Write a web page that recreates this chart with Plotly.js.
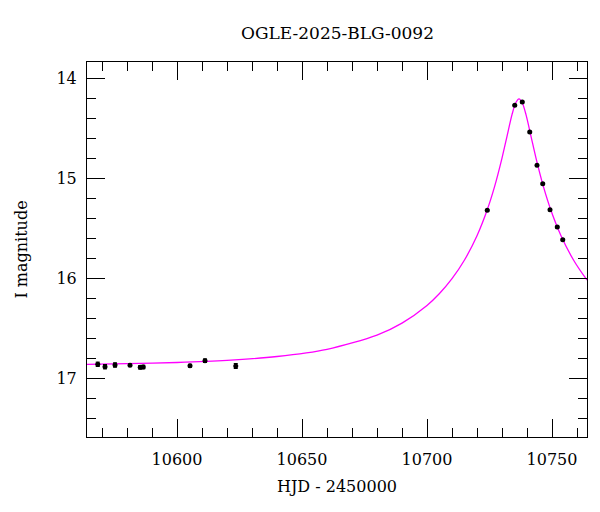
<!DOCTYPE html>
<html>
<head>
<meta charset="utf-8">
<script src="https://cdn.plot.ly/plotly-3.0.1.min.js"></script>
<style>html,body{margin:0;padding:0;background:#fff;}#chart{width:600px;height:512px;}</style>
</head>
<body>
<div id="chart"></div>
<script>
// Observed photometry (HJD - 2450000, I magnitude, error)
const obsHJD = [10568.3, 10571.2, 10575.2, 10581.2, 10585.3, 10586.5, 10605.2, 10611.2, 10623.5,
                10724.1, 10735.1, 10738.1, 10741.1, 10744.0, 10746.3, 10749.2, 10752.1, 10754.3];
const obsMag = [16.863, 16.887, 16.870, 16.873, 16.893, 16.890, 16.877, 16.827, 16.880,
                15.323, 14.273, 14.240, 14.540, 14.873, 15.057, 15.317, 15.490, 15.617];
const obsErr = [0.022, 0.022, 0.022, 0.012, 0.018, 0.018, 0.014, 0.018, 0.025,
                0.008, 0.008, 0.008, 0.008, 0.008, 0.008, 0.008, 0.008, 0.008];

// Model light curve
const modelHJD = [10564, 10580, 10600, 10620, 10640, 10660, 10680, 10690, 10700, 10705, 10710,
                  10715, 10720, 10724, 10727, 10730, 10732, 10734, 10735.5, 10736.8, 10738.1,
                  10739.6, 10741.6, 10743.6, 10746.6, 10749.6, 10753.6, 10758.6, 10763.6, 10764];
const modelMag = [16.863, 16.857, 16.845, 16.824, 16.785, 16.713, 16.571, 16.451, 16.274, 16.155, 16.007,
                  15.820, 15.577, 15.325, 15.089, 14.801, 14.583, 14.367, 14.248, 14.209, 14.248,
                  14.367, 14.583, 14.801, 15.089, 15.325, 15.577, 15.820, 16.007, 16.020];

const titleText = 'OGLE-2025-BLG-0092';
const xTitle = 'HJD - 2450000';
const yTitle = 'I magnitude';
const xTickVals = [10600, 10650, 10700, 10750];
const yTickVals = [14, 15, 16, 17];

const FONT = 'DejaVu Serif, Liberation Serif, serif';

const traces = [
  {
    x: modelHJD, y: modelMag, type: 'scatter', mode: 'lines',
    line: {color: '#ff00ff', width: 1.3, shape: 'spline', smoothing: 0.8},
    hoverinfo: 'skip', showlegend: false
  },
  {
    x: obsHJD, y: obsMag, type: 'scatter', mode: 'markers',
    marker: {color: '#000', size: 5},
    error_y: {type: 'data', array: obsErr, visible: true, color: '#000', thickness: 1, width: 2},
    showlegend: false
  }
];

const axisCommon = {
  showline: true, linecolor: '#000', linewidth: 1, mirror: 'ticks',
  ticks: 'inside', ticklen: 18, tickwidth: 1, tickcolor: '#000',
  showgrid: false, zeroline: false,
  tickfont: {family: FONT, size: 16, color: '#000'}
};

const layout = {
  width: 600, height: 512,
  margin: {l: 87, r: 13, t: 62, b: 75},
  paper_bgcolor: '#fff', plot_bgcolor: '#fff',
  title: {text: titleText, x: 0.5625, xanchor: 'center', xref: 'container',
          y: 1 - 33/512, yanchor: 'middle', yref: 'container',
          font: {family: FONT, size: 17, color: '#000'}},
  xaxis: Object.assign({}, axisCommon, {
    range: [10564, 10764],
    tickvals: xTickVals, ticktext: xTickVals.map(String),
    minor: {dtick: 10, tick0: 10560, ticks: 'inside', ticklen: 9, tickcolor: '#000', tickwidth: 1},
    ticklabelstandoff: 8,
    title: {text: xTitle, standoff: 12, font: {family: FONT, size: 16, color: '#000'}}
  }),
  yaxis: Object.assign({}, axisCommon, {
    range: [17.59, 13.84],
    tickvals: yTickVals, ticktext: yTickVals.map(String),
    minor: {dtick: 0.2, tick0: 14, ticks: 'inside', ticklen: 9, tickcolor: '#000', tickwidth: 1},
    ticklabelstandoff: 6,
    title: {text: yTitle, standoff: 24, font: {family: FONT, size: 16, color: '#000'}}
  })
};

Plotly.newPlot('chart', traces, layout, {displayModeBar: false, staticPlot: true});
</script>
</body>
</html>
